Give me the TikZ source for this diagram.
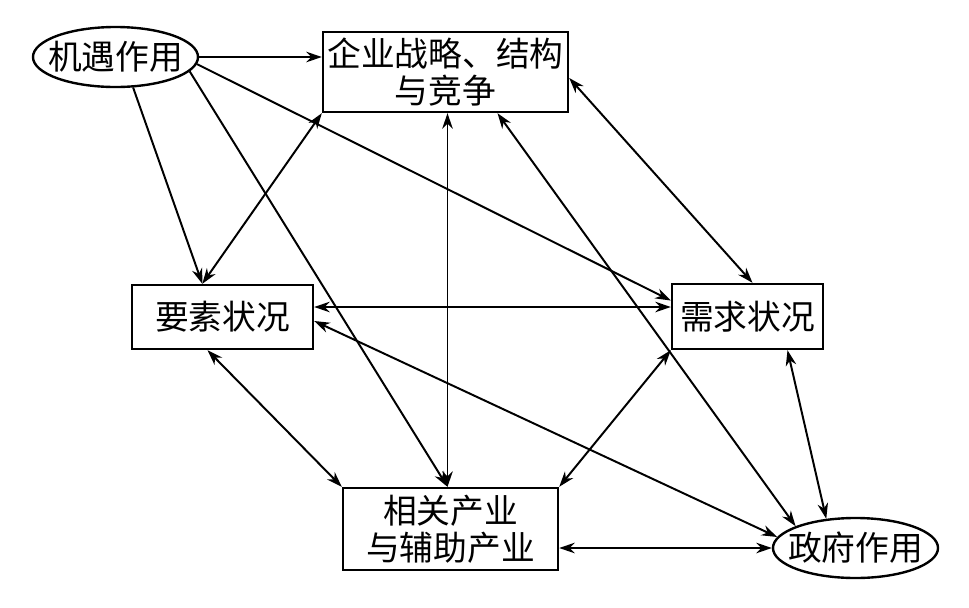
\documentclass[tikz,border=0pt]{standalone}
\usepackage{fontspec}
\newfontfamily\cjk{Noto Sans CJK SC}
\usetikzlibrary{shapes.geometric,arrows.meta,calc}

\begin{document}
\begin{tikzpicture}[
    x=0.025cm, y=-0.025cm,
    >={Stealth[length=11pt,width=7.5pt,inset=3.5pt]},
    txt/.style={font=\cjk\fontsize{24}{26.5}\selectfont},
    box/.style={draw, line width=1.7pt, rectangle, inner sep=0pt, align=center, txt},
    oval/.style={draw, line width=1.7pt, ellipse, inner sep=0pt, minimum width=4.125cm, minimum height=1.5cm, label={[txt]center:#1}},
    link/.style={line width=1.4pt, ->},
    both/.style={line width=1.4pt, <->}
]
\useasboundingbox (0,0) rectangle (969,607);

% Forces
\node[oval=机遇作用] (chance) at (115.5,57) {};
\node[box, minimum width=6.125cm, minimum height=2cm] (firm) at (445.5,72) {企业战略、结构\\与竞争};
\node[box, minimum width=4.525cm, minimum height=1.6cm] (factor) at (222.5,317) {要素状况};
\node[box, minimum width=3.775cm, minimum height=1.625cm] (demand) at (747.5,316.5) {需求状况};
\node[box, minimum width=5.375cm, minimum height=2.05cm] (related) at (450.5,529) {相关产业\\与辅助产业};
\node[oval=政府作用] (gov) at (855.5,548) {};

% Meeting points
\coordinate (fa) at ($(factor.north west)!0.39!(factor.north east)$);
\coordinate (rn) at ($(related.north)+(-3,0)$);

% Chance
\draw[link] (chance.east) -- (chance.east -| firm.west);
\draw[link] (chance.-60) -- (fa);
\draw[link] (chance.-11) -- (rn);
\draw[link] (chance.-5) -- ($(demand.west)+(0,-16)$);

% Two-way links
\draw[both] (firm.south west) -- (fa);
\draw[both] (firm.south -| rn) -- (rn);
\draw[both] ($(firm.east)+(0,6)$) -- ($(demand.north)+(5,0)$);
\draw[both] ($(firm.south)+(52,0)$) -- (gov.160);
\draw[both] ($(factor.east)+(0,-10)$) -- ($(demand.west)+(0,-9.5)$);
\draw[both] ($(factor.south)+(-15,0)$) -- (related.north west);
\draw[both] ($(factor.east)+(0,4)$) -- (gov.172);
\draw[both] (demand.south west) -- (related.north east);
\draw[both] ($(demand.south)+(40,0)$) -- (gov.135);
\draw[both] (gov.west -| related.east) -- (gov.west);

\end{tikzpicture}
\end{document}
